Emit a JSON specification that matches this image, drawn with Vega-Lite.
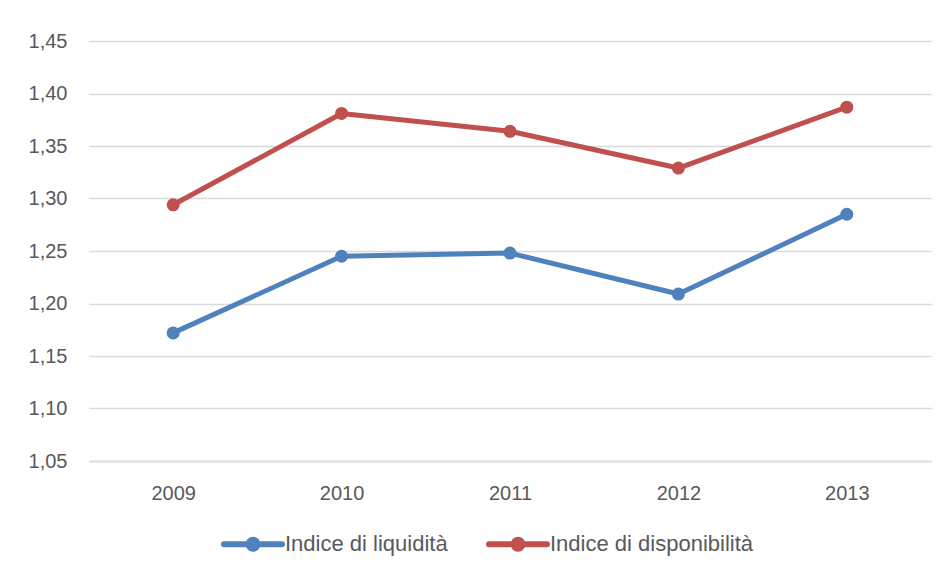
{
  "$schema": "https://vega.github.io/schema/vega-lite/v6.json",
  "width": 842,
  "height": 420,
  "autosize": {"type": "none"},
  "padding": {"left": 89, "top": 41, "right": 16, "bottom": 113},
  "background": "white",
  "config": {
    "font": "Liberation Sans",
    "view": {"stroke": null},
    "locale": {"number": {"decimal": ",", "thousands": ".", "grouping": [3], "currency": ["€", ""]}}
  },
  "data": {
    "values": [
      {"anno": "2009", "serie": "Indice di liquidità", "valore": 1.172},
      {"anno": "2010", "serie": "Indice di liquidità", "valore": 1.245},
      {"anno": "2011", "serie": "Indice di liquidità", "valore": 1.248},
      {"anno": "2012", "serie": "Indice di liquidità", "valore": 1.209},
      {"anno": "2013", "serie": "Indice di liquidità", "valore": 1.285},
      {"anno": "2009", "serie": "Indice di disponibilità", "valore": 1.294},
      {"anno": "2010", "serie": "Indice di disponibilità", "valore": 1.381},
      {"anno": "2011", "serie": "Indice di disponibilità", "valore": 1.364},
      {"anno": "2012", "serie": "Indice di disponibilità", "valore": 1.329},
      {"anno": "2013", "serie": "Indice di disponibilità", "valore": 1.387}
    ]
  },
  "encoding": {
    "x": {
      "field": "anno",
      "type": "ordinal",
      "scale": {"type": "point", "padding": 0.5},
      "axis": {
        "title": null,
        "labelAngle": 0,
        "ticks": false,
        "tickSize": 0,
        "domain": true,
        "domainColor": "#d9d9d9",
        "domainWidth": 1.5,
        "labelFontSize": 20,
        "labelColor": "#595959",
        "labelPadding": 22,
        "grid": false
      }
    },
    "y": {
      "field": "valore",
      "type": "quantitative",
      "scale": {"domain": [1.05, 1.45], "nice": false, "zero": false},
      "axis": {
        "title": null,
        "values": [1.05, 1.1, 1.15, 1.2, 1.25, 1.3, 1.35, 1.4, 1.45],
        "format": ".2f",
        "ticks": false,
        "tickSize": 0,
        "domain": false,
        "grid": true,
        "gridColor": "#d9d9d9",
        "gridWidth": 1.5,
        "labelFontSize": 20,
        "labelColor": "#595959",
        "labelPadding": 22
      }
    },
    "color": {
      "field": "serie",
      "type": "nominal",
      "scale": {
        "domain": ["Indice di liquidità", "Indice di disponibilità"],
        "range": ["#4f81bd", "#c0504d"]
      },
      "legend": {
        "title": null,
        "orient": "none",
        "direction": "horizontal",
        "legendX": 132,
        "legendY": 471,
        "symbolType": "M-1,0L1,0M-0.155,0A0.155,0.155,0,1,0,0.155,0A0.155,0.155,0,1,0,-0.155,0Z",
        "symbolSize": 3364,
        "symbolStrokeWidth": 6,
        "labelFontSize": 22,
        "labelColor": "#595959",
        "labelOffset": 0,
        "labelLimit": 0,
        "columnPadding": 29,
        "encode": {
          "symbols": {
            "update": {
              "fill": {"scale": "color", "field": "value"},
              "stroke": {"scale": "color", "field": "value"},
              "strokeCap": {"value": "round"},
              "opacity": {"value": 1}
            }
          }
        }
      }
    }
  },
  "layer": [
    {"mark": {"type": "line", "strokeWidth": 5, "strokeCap": "round", "strokeJoin": "round"}},
    {"mark": {"type": "point", "filled": true, "size": 170, "opacity": 1}}
  ]
}
